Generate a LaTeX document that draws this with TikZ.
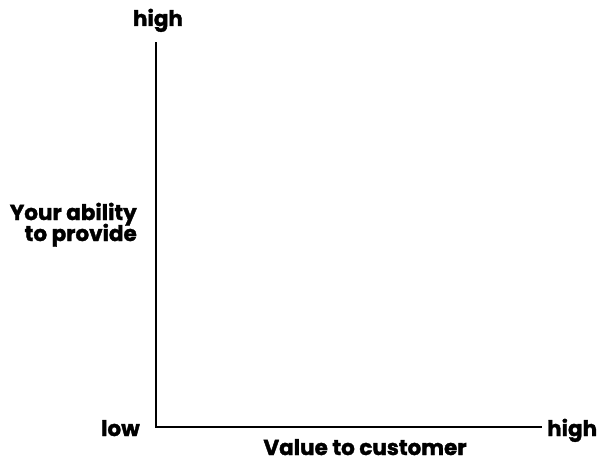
\documentclass[tikz,border=0pt]{standalone}
\usepackage{fontspec}
\setmainfont{Poppins}[BoldFeatures={FakeBold=1.6}]
\begin{document}
\begin{tikzpicture}[x=1pt,y=-1pt,
  lbl/.style={font=\bfseries\fontsize{21.5}{21.5}\selectfont, inner sep=0pt},
  axis/.style={line width=1.5pt}]
\useasboundingbox (0,0) rectangle (598,463);
% axes
\coordinate (O) at (156,427);
\coordinate (T) at (156,42);
\coordinate (R) at (542,427);
\draw[axis] (T) -- (O) -- (R);
% axis labels
\node[lbl, anchor=base] (hy) at (158,26) {high};
\node[lbl, anchor=base east] (lo) at (140,436) {low};
\node[lbl, anchor=base west] (hx) at (547,436) {high};
\node[lbl, anchor=base] (vc) at (365,455) {Value to customer};
\node[lbl, anchor=base east] (ya1) at (137,220) {Your ability};
\node[lbl, anchor=base east] (ya2) at (137,241) {to provide};
\end{tikzpicture}
\end{document}
